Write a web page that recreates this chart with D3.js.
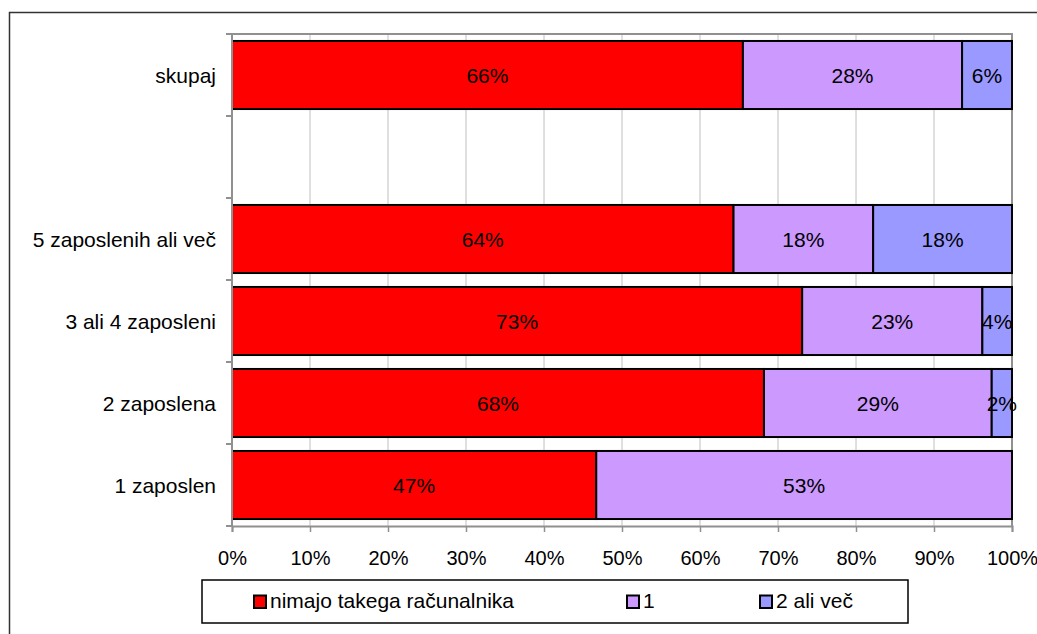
<!DOCTYPE html>
<html>
<head>
<meta charset="utf-8">
<script src="https://cdn.jsdelivr.net/npm/d3@7"></script>
<style>
  body { margin: 0; background: #fff; }
  svg { display: block; font-family: "Liberation Sans", Arial, sans-serif; }
</style>
</head>
<body>
<svg id="chart" width="1037" height="634"></svg>
<script>
// categories top to bottom (the empty one is a gap row)
const categories = ["skupaj", "", "5 zaposlenih ali več", "3 ali 4 zaposleni", "2 zaposlena", "1 zaposlen"];
const seriesNames = ["nimajo takega računalnika", "1", "2 ali več"];
const seriesColors = ["#ff0000", "#cc99ff", "#9999ff"];
// shares (fractions) per category
const noneValues = [0.655, null, 0.643, 0.731, 0.682, 0.467];
const oneValues  = [0.281, null, 0.179, 0.231, 0.292, 0.533];
const twoValues  = [0.064, null, 0.178, 0.038, 0.026, 0];
// labels shown inside the bars
const noneLabels = ["66%", "", "64%", "73%", "68%", "47%"];
const oneLabels  = ["28%", "", "18%", "23%", "29%", "53%"];
const twoLabels  = ["6%", "", "18%", "4%", "2%", ""];
const xTicks = [0, 0.1, 0.2, 0.3, 0.4, 0.5, 0.6, 0.7, 0.8, 0.9, 1];

const svg = d3.select("#chart");

const plot = { left: 232, right: 1012, top: 34, bottom: 526 };

// outer frame (runs past the right and bottom edges)
svg.append("path")
  .attr("d", "M9.5,640 L9.5,12.5 L1045,12.5")
  .attr("fill", "none")
  .attr("stroke", "#333")
  .attr("stroke-width", 1.5);

const x = d3.scaleLinear().domain([0, 1]).range([plot.left, plot.right]);
const y = d3.scaleBand()
  .domain(categories.map((d, i) => i))
  .range([plot.top, plot.bottom])
  .paddingInner(0.17)
  .paddingOuter(0.085);

// vertical grid lines
svg.append("g")
  .selectAll("line")
  .data(xTicks.slice(1, -1))
  .enter()
  .append("line")
  .attr("x1", d => x(d)).attr("x2", d => x(d))
  .attr("y1", plot.top).attr("y2", plot.bottom)
  .attr("stroke", "#c0c0c0")
  .attr("stroke-width", 1);

// plot area border top / right
svg.append("path")
  .attr("d", `M${plot.left},${plot.top} L${plot.right},${plot.top} L${plot.right},${plot.bottom}`)
  .attr("fill", "none")
  .attr("stroke", "#909090")
  .attr("stroke-width", 2);

// stack data
const rows = categories.map((c, i) => ({
  i: i,
  vals: [noneValues[i], oneValues[i], twoValues[i]],
  labels: [noneLabels[i], oneLabels[i], twoLabels[i]]
})).filter(r => r.vals[0] !== null);

const segs = [];
rows.forEach(r => {
  let acc = 0;
  r.vals.forEach((v, k) => {
    if (v > 0) segs.push({ i: r.i, k: k, x0: acc, x1: acc + v, label: r.labels[k] });
    acc += v;
  });
});

svg.append("g")
  .selectAll("rect")
  .data(segs)
  .enter()
  .append("rect")
  .attr("x", d => x(d.x0))
  .attr("y", d => y(d.i))
  .attr("width", d => x(d.x1) - x(d.x0))
  .attr("height", y.bandwidth())
  .attr("fill", d => seriesColors[d.k])
  .attr("stroke", "#000")
  .attr("stroke-width", 2);

svg.append("g")
  .selectAll("text")
  .data(segs.filter(d => d.label))
  .enter()
  .append("text")
  .attr("x", d => (x(d.x0) + x(d.x1)) / 2)
  .attr("y", d => y(d.i) + y.bandwidth() / 2 + 7.5)
  .attr("text-anchor", "middle")
  .style("font-size", "21px")
  .attr("fill", "#000")
  .text(d => d.label);

// left axis
const yAxis = svg.append("g")
  .attr("transform", `translate(${plot.left},0)`);
yAxis.append("line")
  .attr("x1", 0).attr("x2", 0).attr("y1", plot.top).attr("y2", plot.bottom)
  .attr("stroke", "#909090").attr("stroke-width", 2);
const bounds = categories.map((d, i) => y(i) - y.step() * y.paddingInner() / 2);
bounds.push(plot.bottom);
yAxis.selectAll("line.tick")
  .data(bounds)
  .enter()
  .append("line")
  .attr("class", "tick")
  .attr("x1", -6).attr("x2", 0)
  .attr("y1", d => d).attr("y2", d => d)
  .attr("stroke", "#909090").attr("stroke-width", 2);
yAxis.selectAll("text")
  .data(categories.map((c, i) => ({ c, i })).filter(d => d.c))
  .enter()
  .append("text")
  .attr("x", -16)
  .attr("y", d => y(d.i) + y.bandwidth() / 2 + 7.5)
  .attr("text-anchor", "end")
  .style("font-size", "21px")
  .text(d => d.c);

// bottom axis
const xAxis = svg.append("g")
  .attr("transform", `translate(0,${plot.bottom})`)
  .call(d3.axisBottom(x).tickValues(xTicks).tickFormat(d3.format(".0%")).tickSize(6));
xAxis.select(".domain").attr("stroke", "#909090").attr("stroke-width", 2);
xAxis.selectAll(".tick line").attr("stroke", "#909090").attr("stroke-width", 1.5);
xAxis.selectAll(".tick text")
  .attr("y", 39).attr("dy", null)
  .attr("fill", "#000")
  .style("font-family", "'Liberation Sans', Arial, sans-serif")
  .style("font-size", "20px");

// legend
const legend = svg.append("g");
legend.append("rect")
  .attr("x", 202).attr("y", 580)
  .attr("width", 706).attr("height", 43)
  .attr("fill", "#fff")
  .attr("stroke", "#000")
  .attr("stroke-width", 1.5);
const legendX = [254, 627, 760];
seriesNames.forEach((name, k) => {
  legend.append("rect")
    .attr("x", legendX[k]).attr("y", 595.5)
    .attr("width", 12).attr("height", 12.5)
    .attr("fill", seriesColors[k])
    .attr("stroke", "#000")
    .attr("stroke-width", 2);
  legend.append("text")
    .attr("x", legendX[k] + 16)
    .attr("y", 608)
    .style("font-size", "21px")
    .text(name);
});
</script>
</body>
</html>
